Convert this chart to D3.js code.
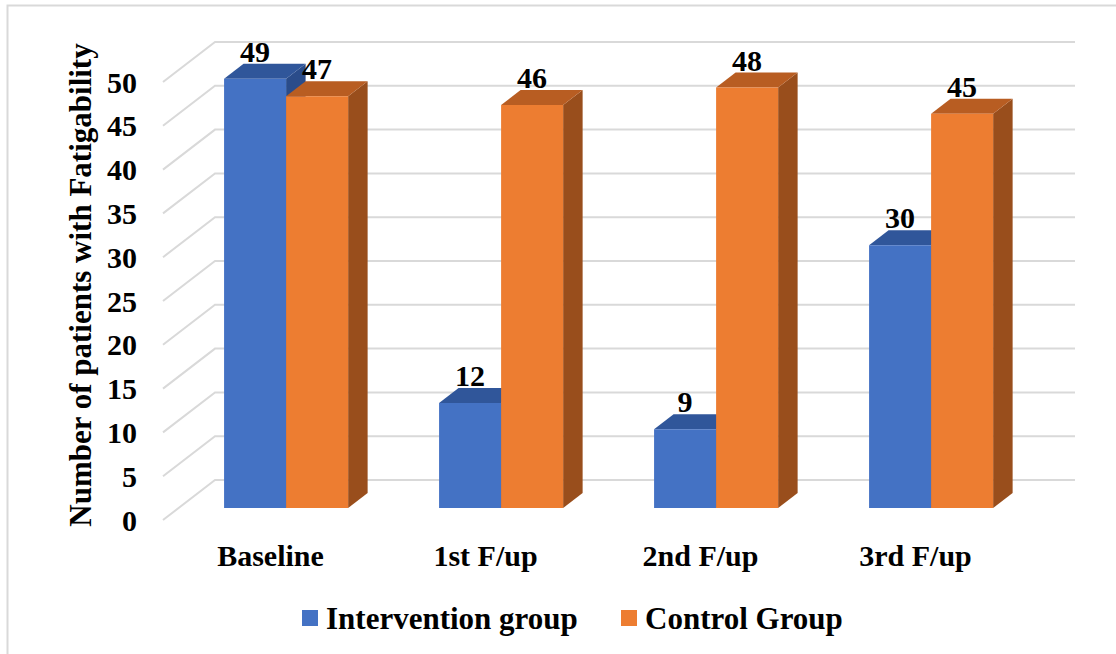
<!DOCTYPE html>
<html>
<head>
<meta charset="utf-8">
<script src="https://cdn.jsdelivr.net/npm/d3@7"></script>
<style>
  html, body { margin: 0; padding: 0; background: #fff; }
  svg { display: block; }
  text { font-family: "Liberation Serif", "Times New Roman", serif; font-weight: bold; fill: #000; }
</style>
</head>
<body>
<svg id="chart" width="1116" height="654"></svg>
<script>
// Patients with fatigability at each assessment point
const categories = ["Baseline", "1st F/up", "2nd F/up", "3rd F/up"];
const seriesNames = ["Intervention group", "Control Group"];
const intervention = [49, 12, 9, 30];
const control = [47, 46, 48, 45];
const yTicks = [0, 5, 10, 15, 20, 25, 30, 35, 40, 45, 50];

const seriesValues = [intervention, control];
const palette = [
  { front: "#4472C4", top: "#30569A", side: "#2A4C8A" },
  { front: "#ED7D31", top: "#B85D22", side: "#994E1C" }
];

const svg = d3.select("#chart");

// Outer frame
svg.append("rect")
  .attr("x", 7.5).attr("y", 5.5)
  .attr("width", 1300).attr("height", 800)
  .attr("fill", "none").attr("stroke", "#D9D9D9").attr("stroke-width", 2);

// Oblique 3D projection: back wall plane and the depth vector towards the viewer
const wallLeft = 215, wallRight = 1075;
const depth = { dx: 52, dy: -40 };       // front edge -> back wall
const barFront = 0.3, barBack = 0.675;   // bar depth as fractions of the floor depth

const y = d3.scaleLinear().domain([0, 50]).range([480, 42]);   // on the back wall
const xFront = d3.scaleBand()
  .domain(categories)
  .range([wallLeft - depth.dx, wallRight - depth.dx])
  .paddingInner(0)
  .paddingOuter(0);

// project a point (x at the front plane, value, depth fraction)
const P = (xf, v, d) => [xf + depth.dx * d, y(v) - depth.dy * (1 - d)];

const bandPad = 0.423;
const groupScale = d3.scaleBand()
  .domain(categories)
  .range(xFront.range())
  .paddingInner(bandPad)
  .paddingOuter(bandPad / 2);
const sub = d3.scaleBand().domain(d3.range(seriesNames.length)).range([0, groupScale.bandwidth()]);

// Gridlines: back wall horizontals plus the slanted side-wall lines
const grid = svg.append("g").attr("stroke", "#D9D9D9").attr("stroke-width", 2).attr("fill", "none");
yTicks.forEach(t => {
  const [x0, y0] = P(xFront.range()[0], t, 0);
  const [x1, y1] = P(xFront.range()[0], t, 1);
  grid.append("path").attr("d", d3.line()([[x0, y0], [x1, y1], [wallRight, y1]]));
});

// Bars (drawn left to right so each front face hides the previous side face)
const bars = svg.append("g");
const line = d3.line();
categories.forEach((c, ci) => {
  seriesValues.forEach((vals, si) => {
    const v = vals[ci];
    const xl = groupScale(c) + sub(si);
    const xr = xl + sub.bandwidth();
    const col = palette[si];
    const fl0 = P(xl, 0, barFront), fr0 = P(xr, 0, barFront);
    const flv = P(xl, v, barFront), frv = P(xr, v, barFront);
    const blv = P(xl, v, barBack), brv = P(xr, v, barBack), br0 = P(xr, 0, barBack);
    bars.append("path").attr("d", line([fr0, frv, brv, br0]) + "Z").attr("fill", col.side);
    bars.append("path").attr("d", line([flv, frv, brv, blv]) + "Z").attr("fill", col.top);
    bars.append("path").attr("d", line([fl0, flv, frv, fr0]) + "Z").attr("fill", col.front);
  });
});

// Value labels above each bar
const labels = svg.append("g").attr("font-size", 30).attr("text-anchor", "middle");
categories.forEach((c, ci) => {
  seriesValues.forEach((vals, si) => {
    const v = vals[ci];
    const xl = groupScale(c) + sub(si);
    const [cx] = P(xl + sub.bandwidth() / 2, v, barFront);
    const [, by] = P(xl, v, barBack);
    labels.append("text").attr("x", cx).attr("y", by - 2).text(v);
  });
});

// Y axis tick labels at the front edge
const yAxis = svg.append("g").attr("font-size", 30).attr("text-anchor", "end");
yTicks.forEach(t => {
  const [, yy] = P(xFront.range()[0], t, 0);
  yAxis.append("text").attr("x", 137).attr("y", yy).attr("dy", "0.35em").text(t);
});

// Category labels
const xAxis = svg.append("g").attr("font-size", 30).attr("text-anchor", "middle");
categories.forEach(c => {
  xAxis.append("text").attr("x", xFront(c) + xFront.bandwidth() / 2).attr("y", 566).text(c);
});

// Axis title
svg.append("text")
  .attr("transform", "translate(91,285) rotate(-90)")
  .attr("text-anchor", "middle")
  .attr("font-size", 31)
  .text("Number of patients with Fatigability");

// Legend
const legend = svg.append("g").attr("font-size", 31);
const legendX = [302, 621];
seriesNames.forEach((n, i) => {
  legend.append("rect").attr("x", legendX[i]).attr("y", 610).attr("width", 16).attr("height", 16).attr("fill", palette[i].front);
  legend.append("text").attr("x", legendX[i] + 24).attr("y", 629).text(n);
});
</script>
</body>
</html>
